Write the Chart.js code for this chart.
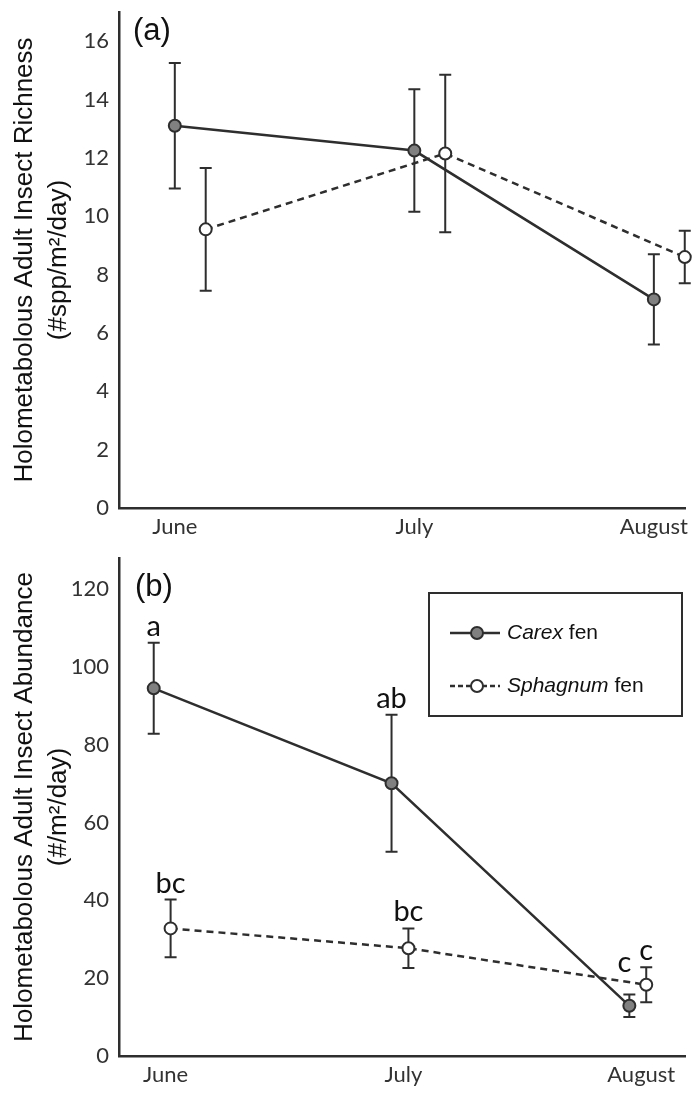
<!DOCTYPE html>
<html>
<head>
<meta charset="utf-8">
<script src="https://cdn.jsdelivr.net/npm/chart.js@4.4.1/dist/chart.umd.min.js"></script>
<style>
  body { margin: 0; background: #fff; }
  .panel { position: absolute; left: 0; }
</style>
</head>
<body>
<div class="panel" style="top:0"><canvas id="richChart" width="693" height="545"></canvas></div>
<div class="panel" style="top:545px"><canvas id="abunChart" width="693" height="550"></canvas></div>
<script>
// data (means and error-bar half widths)
const months = ['June', 'July', 'August'];

const richCarex = [13.1, 12.25, 7.15];
const richCarexSE = [2.15, 2.1, 1.55];
const richSphag = [9.55, 12.15, 8.6];
const richSphagSE = [2.1, 2.7, 0.9];
const richTicks = [0, 2, 4, 6, 8, 10, 12, 14, 16];

const abunCarex = [94.5, 70.1, 12.9];
const abunCarexSE = [11.7, 17.6, 2.9];
const abunSphag = [32.8, 27.7, 18.3];
const abunSphagSE = [7.4, 5.1, 4.5];
const abunTicks = [0, 20, 40, 60, 80, 100, 120];
const abunCarexLetters = ['a', 'ab', 'c'];
const abunSphagLetters = ['bc', 'bc', 'c'];

const INK = '#2e2e2e';
const TICK_FONT = { family: 'Lato, "Open Sans", sans-serif', size: 22 };
const TITLE_FONT = { family: '"Liberation Sans", Arial, sans-serif', size: 26, lineHeight: 1.3 };

const toPoints = (values, shift) => values.map((v, i) => ({ x: i + shift, y: v }));

// error bars underneath the markers
const errorBars = {
  id: 'errorBars',
  beforeDatasetsDraw(chart) {
    const { ctx } = chart;
    const y = chart.scales.y;
    ctx.save();
    ctx.strokeStyle = INK;
    ctx.lineWidth = 2;
    chart.data.datasets.forEach((ds, di) => {
      const meta = chart.getDatasetMeta(di);
      meta.data.forEach((pt, i) => {
        const top = y.getPixelForValue(ds.data[i].y + ds.se[i]);
        const bot = y.getPixelForValue(ds.data[i].y - ds.se[i]);
        ctx.beginPath();
        ctx.moveTo(pt.x, top); ctx.lineTo(pt.x, bot);
        ctx.moveTo(pt.x - 6, top); ctx.lineTo(pt.x + 6, top);
        ctx.moveTo(pt.x - 6, bot); ctx.lineTo(pt.x + 6, bot);
        ctx.stroke();
      });
    });
    ctx.restore();
  }
};

// panel tag, significance letters and the boxed legend
const extras = {
  id: 'extras',
  afterDraw(chart, args, opts) {
    const { ctx } = chart;
    const y = chart.scales.y;
    ctx.save();
    ctx.fillStyle = '#111';
    ctx.font = '31px "Liberation Sans", Arial, sans-serif';
    ctx.textBaseline = 'middle';
    ctx.textAlign = 'left';
    ctx.fillText(opts.panel, opts.panelX, opts.panelY);

    ctx.font = '29px Lato, sans-serif';
    ctx.textAlign = 'center';
    ctx.textBaseline = 'alphabetic';
    chart.data.datasets.forEach((ds, di) => {
      if (!ds.letters) return;
      const meta = chart.getDatasetMeta(di);
      meta.data.forEach((pt, i) => {
        const nudge = (opts.nudge[di] && opts.nudge[di][i]) || [0, 0];
        const top = y.getPixelForValue(ds.data[i].y + ds.se[i]);
        ctx.fillText(ds.letters[i], pt.x + nudge[0], top - 7 + nudge[1]);
      });
    });

    if (opts.legend) {
      const L = opts.legend;
      ctx.strokeStyle = INK;
      ctx.lineWidth = 2;
      ctx.strokeRect(L.x, L.y, L.w, L.h);
      chart.data.datasets.forEach((ds, di) => {
        const ly = L.y + 40 + di * 53;
        ctx.beginPath();
        ctx.setLineDash(ds.borderDash ? [5, 3] : []);
        ctx.lineWidth = 2.5;
        ctx.moveTo(L.x + 21, ly); ctx.lineTo(L.x + 71, ly);
        ctx.stroke();
        ctx.setLineDash([]);
        ctx.beginPath();
        ctx.arc(L.x + 48, ly, 6, 0, Math.PI * 2);
        ctx.fillStyle = ds.pointBackgroundColor;
        ctx.fill();
        ctx.lineWidth = 2;
        ctx.stroke();
        ctx.fillStyle = '#111';
        ctx.textAlign = 'left';
        ctx.textBaseline = 'middle';
        ctx.font = 'italic 21px "Liberation Sans", Arial, sans-serif';
        const genus = ds.label.split(' ')[0];
        ctx.fillText(genus, L.x + 78, ly);
        const w = ctx.measureText(genus + ' ').width;
        ctx.font = '21px "Liberation Sans", Arial, sans-serif';
        ctx.fillText('fen', L.x + 78 + w, ly);
      });
    }
    ctx.restore();
  }
};

function makeChart(id, c) {
  const ctx = document.getElementById(id).getContext('2d');
  return new Chart(ctx, {
    type: 'line',
    data: {
      datasets: [{
        label: 'Carex fen',
        data: toPoints(c.carex, 0),
        se: c.carexSE,
        letters: c.carexLetters,
        borderColor: INK,
        borderWidth: 2.5,
        pointRadius: 6,
        pointBorderWidth: 2,
        pointBorderColor: INK,
        pointBackgroundColor: '#808080',
        clip: false
      }, {
        label: 'Sphagnum fen',
        data: toPoints(c.sphag, c.sphShift),
        se: c.sphagSE,
        letters: c.sphagLetters,
        borderColor: INK,
        borderWidth: 2.5,
        borderDash: [7, 5],
        pointRadius: 6,
        pointBorderWidth: 2,
        pointBorderColor: INK,
        pointBackgroundColor: '#ffffff',
        clip: false
      }]
    },
    options: {
      responsive: false,
      animation: false,
      layout: { padding: { top: c.padTop, right: c.padRight, left: 0, bottom: 0 } },
      plugins: {
        legend: { display: false },
        tooltip: { enabled: false },
        extras: c.extras
      },
      scales: {
        x: {
          type: 'linear',
          min: c.xMin,
          max: c.xMax,
          grid: { display: false, drawTicks: false },
          border: { display: true, color: INK, width: 2.5 },
          ticks: {
            autoSkip: false, maxRotation: 0, padding: 6,
            color: '#333', font: TICK_FONT,
            callback: (v, i) => months[i]
          },
          afterBuildTicks: s => { s.ticks = months.map((m, i) => ({ value: i + c.labelShift })); },
          afterFit: s => { s.height = c.xAxisHeight; s.paddingLeft = 0; s.paddingRight = 0; }
        },
        y: {
          min: 0,
          max: c.yMax,
          grid: { display: false, drawTicks: false },
          border: { display: true, color: INK, width: 2.5 },
          ticks: { padding: 10, color: '#333', font: TICK_FONT },
          title: {
            display: true,
            text: c.title,
            color: '#111',
            font: TITLE_FONT,
            padding: { top: 8, bottom: 0 }
          },
          afterBuildTicks: s => { s.ticks = c.yTicks.map(v => ({ value: v })); },
          afterFit: s => { s.width = 119; s.paddingTop = 0; s.paddingBottom = 0; }
        }
      }
    },
    plugins: [errorBars, extras]
  });
}

makeChart('richChart', {
  carex: richCarex, carexSE: richCarexSE,
  sphag: richSphag, sphagSE: richSphagSE,
  sphShift: 0.129, labelShift: 0,
  xMin: -0.233, xMax: 2.13,
  yMax: 17, yTicks: richTicks,
  padTop: 12, padRight: 5, xAxisHeight: 37,
  title: ['Holometabolous Adult Insect Richness', '(#spp/m\u00b2/day)'],
  extras: { panel: '(a)', panelX: 133, panelY: 31, nudge: [] }
});

makeChart('abunChart', {
  carex: abunCarex, carexSE: abunCarexSE, carexLetters: abunCarexLetters,
  sphag: abunSphag, sphagSE: abunSphagSE, sphagLetters: abunSphagLetters,
  sphShift: 0.071, labelShift: 0.05,
  xMin: -0.146, xMax: 2.234,
  yMax: 128, yTicks: abunTicks,
  padTop: 13, padRight: 2, xAxisHeight: 39,
  title: ['Holometabolous Adult Insect Abundance', '(#/m\u00b2/day)'],
  extras: {
    panel: '(b)', panelX: 135, panelY: 42,
    nudge: [[null, null, [-5, -16]]],
    legend: { x: 429, y: 48, w: 253, h: 123 }
  }
});
</script>
</body>
</html>
